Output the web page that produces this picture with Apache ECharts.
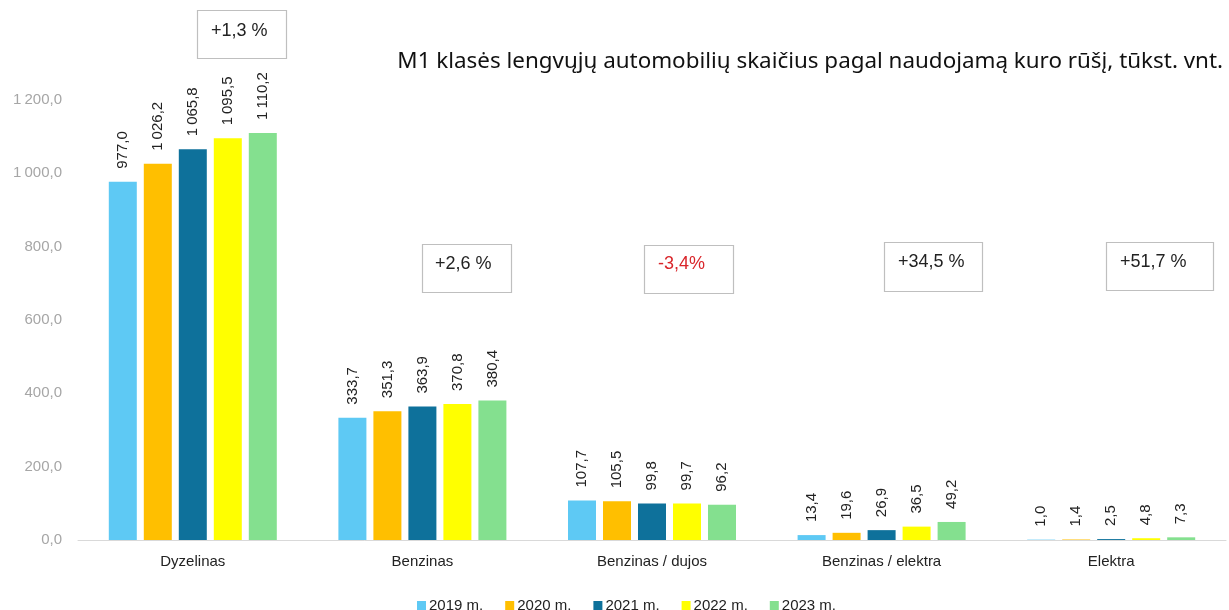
<!DOCTYPE html>
<html>
<head>
<meta charset="utf-8">
<script src="https://cdn.jsdelivr.net/npm/echarts@6/dist/echarts.min.js"></script>
<style>
html,body{margin:0;padding:0;background:#fff;}
#c{width:1229px;height:610px;}
</style>
</head>
<body>
<div id="c"></div>
<script>
const categories = ['Dyzelinas', 'Benzinas', 'Benzinas / dujos', 'Benzinas / elektra', 'Elektra'];
const seriesNames = ['2019 m.', '2020 m.', '2021 m.', '2022 m.', '2023 m.'];
const values2019 = [977.0, 333.7, 107.7, 13.4, 1.0];
const values2020 = [1026.2, 351.3, 105.5, 19.6, 1.4];
const values2021 = [1065.8, 363.9, 99.8, 26.9, 2.5];
const values2022 = [1095.5, 370.8, 99.7, 36.5, 4.8];
const values2023 = [1110.2, 380.4, 96.2, 49.2, 7.3];
const changeLabels = ['+1,3 %', '+2,6 %', '-3,4%', '+34,5 %', '+51,7 %'];
const titleText = 'M1 klasės lengvųjų automobilių skaičius pagal naudojamą kuro rūšį, tūkst. vnt.';

const colors = ['#5EC9F4', '#FFBF00', '#0E719B', '#FFFF00', '#84E08F'];
const allValues = [values2019, values2020, values2021, values2022, values2023];

function fmt(v) {
  const s = v.toFixed(1);
  const parts = s.split('.');
  const intPart = parts[0].replace(/\B(?=(\d{3})+(?!\d))/g, '\u2009');
  return intPart + ',' + parts[1];
}

const chart = echarts.init(document.getElementById('c'));

const boxes = [
  {x: 197, y: 10, w: 89, h: 48, tx: 211, ty: 31, color: '#222'},
  {x: 422, y: 244, w: 89, h: 48, tx: 435, ty: 264, color: '#222'},
  {x: 644, y: 245, w: 89, h: 48, tx: 658, ty: 264, color: '#D9262B'},
  {x: 884, y: 242, w: 98, h: 49, tx: 898, ty: 262, color: '#222'},
  {x: 1106, y: 242, w: 107, h: 48, tx: 1120, ty: 262, color: '#222'}
];

const graphics = [];
boxes.forEach((b, i) => {
  graphics.push({
    type: 'rect',
    shape: {x: b.x + 0.5, y: b.y + 0.5, width: b.w, height: b.h},
    style: {fill: '#fff', stroke: '#BFBFBF', lineWidth: 1.2},
    z: 10
  });
  graphics.push({
    type: 'text',
    x: b.tx, y: b.ty,
    style: {
      text: changeLabels[i],
      fill: b.color,
      font: '18px "Liberation Sans", Arial, sans-serif',
      textAlign: 'left',
      textVerticalAlign: 'middle'
    },
    z: 11
  });
});
graphics.push({
  type: 'text',
  x: 1223, y: 62,
  style: {
    text: titleText,
    fill: '#111',
    font: '22.4px "Noto Sans", sans-serif',
    textAlign: 'right',
    textVerticalAlign: 'middle'
  },
  z: 11
});

const series = seriesNames.map((name, i) => ({
  name: name,
  type: 'bar',
  data: allValues[i],
  barWidth: 28,
  barGap: '25%',
  itemStyle: {color: colors[i]},
  label: {
    show: true,
    position: 'top',
    rotate: 90,
    align: 'left',
    verticalAlign: 'middle',
    distance: 13,
    color: '#222',
    fontSize: 15,
    fontFamily: '"Liberation Sans", Arial, sans-serif',
    formatter: p => fmt(p.value)
  }
}));

chart.setOption({
  animation: false,
  backgroundColor: '#fff',
  grid: {left: 78, right: 3, top: 100, bottom: 70, containLabel: false},
  graphic: graphics,
  legend: {
    data: seriesNames,
    left: 412,
    top: 593,
    icon: 'rect',
    itemWidth: 9,
    itemHeight: 9,
    itemGap: 22,
    textStyle: {color: '#222', fontSize: 15, fontFamily: '"Liberation Sans", Arial, sans-serif', padding: [0, 0, 0, -2]}
  },
  xAxis: {
    type: 'category',
    data: categories,
    axisLine: {show: true, lineStyle: {color: '#D9D9D9', width: 1}},
    axisTick: {show: false},
    axisLabel: {color: '#222', fontSize: 15, margin: 14, fontFamily: '"Liberation Sans", Arial, sans-serif'}
  },
  yAxis: {
    type: 'value',
    min: 0,
    max: 1200,
    interval: 200,
    axisLine: {show: false},
    axisTick: {show: false},
    splitLine: {show: false},
    axisLabel: {
      color: '#A6A6A6',
      fontSize: 15,
      margin: 16,
      fontFamily: '"Liberation Sans", Arial, sans-serif',
      formatter: v => fmt(v)
    }
  },
  series: series
});
</script>
</body>
</html>
